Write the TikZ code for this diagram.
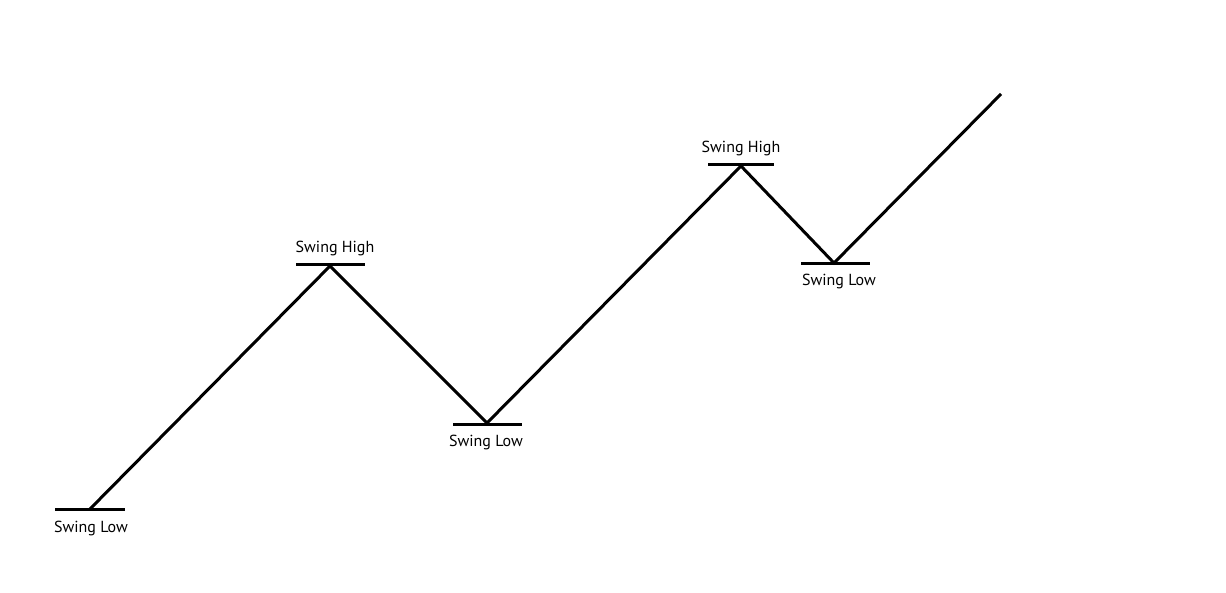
\documentclass[tikz,border=0pt]{standalone}
\usepackage{fontspec}
\setmainfont{PT Sans}
\usetikzlibrary{calc,positioning}
\tikzset{
    swingline/.style={line width=3pt,line join=miter,draw=black},
    swingbar/.style={line width=3pt,draw=black},
    swinglabel/.style={font=\fontsize{16}{18}\selectfont,text=black,inner sep=0pt}
}

\begin{document}
\begin{tikzpicture}[x=1pt,y=-1pt]
\useasboundingbox (0,0) rectangle (1226,593);

% turning points
\coordinate (low1) at (90,509);
\coordinate (high1) at (330,266);
\coordinate (low2) at (487,423);
\coordinate (high2) at (741,166);
\coordinate (low3) at (834,263);
\coordinate (trend) at (1001,94);

% price path
\draw[swingline] (low1) -- (high1) -- (low2) -- (high2) -- (low3) -- (trend);

% level bars
\draw[swingbar] ($(low1)+(-35,0)$) -- ($(low1)+(35,0)$);
\draw[swingbar] ($(high1)+(-34,-1)$) -- ($(high1)+(35,-1)$);
\draw[swingbar] ($(low2)+(-34,1)$) -- ($(low2)+(35,1)$);
\draw[swingbar] ($(high2)+(-33,-1)$) -- ($(high2)+(33,-1)$);
\draw[swingbar] ($(low3)+(-33,1)$) -- ($(low3)+(36,1)$);

% labels
\node[swinglabel] (lowlab1) at ($(low1)+(1,19)$) {Swing Low};
\node[swinglabel] (highlab1) at ($(high1)+(5,-17)$) {Swing High};
\node[swinglabel] (lowlab2) at ($(low2)+(-1,19)$) {Swing Low};
\node[swinglabel] (highlab2) at ($(high2)+(0,-17)$) {Swing High};
\node[swinglabel] (lowlab3) at ($(low3)+(5,19)$) {Swing Low};

\end{tikzpicture}
\end{document}
